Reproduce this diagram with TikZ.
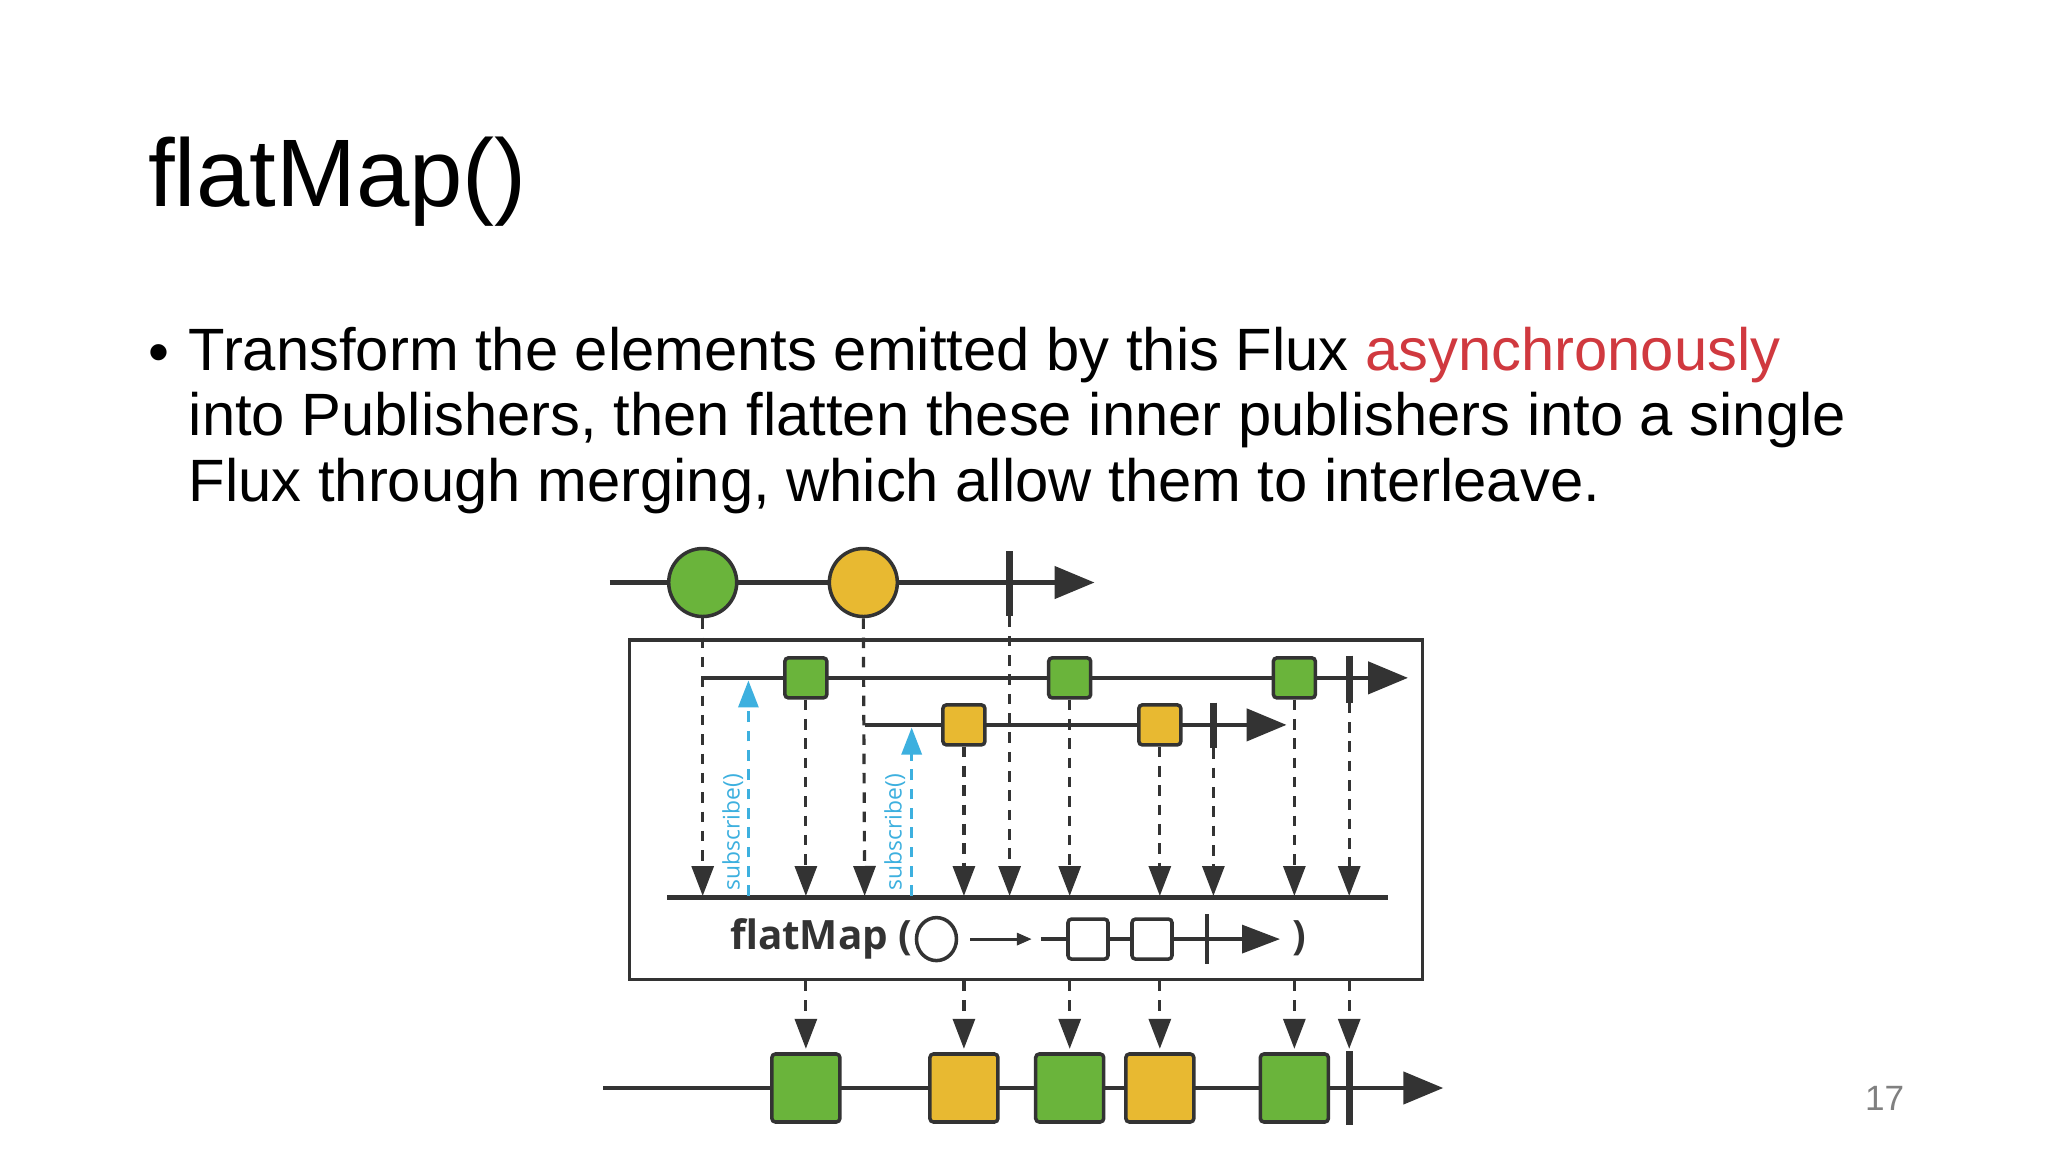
\documentclass[tikz,border=0pt]{standalone}
\usepackage{fontspec}
\setmainfont{Liberation Sans}
\newfontfamily\osans{Open Sans}
\usetikzlibrary{arrows.meta,shapes.geometric}
\definecolor{mgreen}{HTML}{6AB43B}
\definecolor{myellow}{HTML}{E8B931}
\definecolor{mblue}{HTML}{3DB0DF}
\definecolor{mred}{HTML}{D0393F}
\definecolor{dk}{HTML}{333333}
\begin{document}
\begin{tikzpicture}[x=0.013061cm,y=-0.013061cm,
  tl/.style={draw=dk,line width=1.3pt,-{Triangle[length=0.4cm,width=0.32cm]}},
  dl/.style={draw=dk,line width=0.9pt,dash pattern=on 3pt off 2.5pt,-{Triangle[length=0.3cm,width=0.22cm]}},
  bl/.style={draw=mblue,line width=0.9pt,dash pattern=on 3pt off 2.5pt,-{Triangle[length=0.27cm,width=0.2cm]}},
  marble/.style={circle,draw=dk,line width=1pt,minimum size=0.68cm,inner sep=0},
  sq/.style={rectangle,rounded corners=1pt,draw=dk,line width=1pt,minimum width=0.42cm,minimum height=0.40cm,inner sep=0},
  bsq/.style={rectangle,rounded corners=1pt,draw=dk,line width=1pt,minimum size=0.68cm,inner sep=0},
  bar/.style={draw=dk,line width=2pt}]
\useasboundingbox (0,0) rectangle (1568,882);
\fill[white] (0,0) rectangle (1568,882);
\node[anchor=base west,inner sep=0,font=\fontsize{27.3}{32}\selectfont] (title) at (113,158) {flatMap()};
\node[anchor=base west,inner sep=0,font=\fontsize{17}{18.6}\selectfont] (bul) at (113,285) {•};
\node[anchor=north west,inner sep=0,align=left,font=\fontsize{17}{18.6}\selectfont] (body) at (144,250)
 {Transform the elements emitted by this Flux \textcolor{mred}{asynchronously}\\
 into Publishers, then flatten these inner publishers into a single\\
 Flux through merging, which allow them to interleave.};
% top line
\coordinate (ts) at (467,446); \coordinate (te) at (838,446);
\draw[tl] (ts) -- (te);
\node[marble,fill=mgreen] (c1) at (538,446) {};
\node[marble,fill=myellow] (c2) at (661,446) {};
\draw[bar] (773,422) coordinate (b0t) -- (773,472) coordinate (b0);
% box
\node[draw=dk,line width=1pt,minimum width=607*0.013061cm,minimum height=260*0.013061cm,inner sep=0] (box) at (785.5,620) {};
% inner lines
\coordinate (l1s) at (539,519); \coordinate (l1e) at (1078,519);
\coordinate (l2s) at (662,555); \coordinate (l2e) at (985,555);
\draw[tl] (l1s) -- (l1e);
\draw[tl] (l2s) -- (l2e);
\node[sq,fill=mgreen] (g1) at (617,519) {};
\node[sq,fill=mgreen] (g2) at (819,519) {};
\node[sq,fill=mgreen] (g3) at (991,519) {};
\node[sq,fill=myellow] (y1) at (738,555) {};
\node[sq,fill=myellow] (y2) at (888,555) {};
\draw[bar] (1033,502) -- (1033,538) coordinate (b1);
\draw[bar] (929,538) -- (929,573) coordinate (b2);
% merge line
\draw[dk,line width=1.3pt] (511,687) coordinate (ms) -- (1063,687) coordinate (me);
\foreach \n/\x in {c1/538,c2/662} \draw[dl] (\n.south) -- (\x,686);
\draw[dl] (b0) -- (773,686);
\foreach \n/\x in {g1/617,g2/819,g3/991,y1/738,y2/888} \draw[dl] (\n.south) -- (\x,686);
\draw[dl] (b1) -- (1033,686);
\draw[dl] (b2) -- (929,686);
\draw[bl] (573,686) -- (573,521);
\draw[bl] (698,686) -- (698,557);
\node[rotate=90,text=mblue,font=\osans\fontsize{6.5}{8}\selectfont,inner sep=0] (s1) at (561,637) {subscribe()};
\node[rotate=90,text=mblue,font=\osans\fontsize{6.5}{8}\selectfont,inner sep=0] (s2) at (685,637) {subscribe()};
% legend
\node[anchor=base east,inner sep=0,text=dk,font=\osans\bfseries\fontsize{11.5}{14}\selectfont] (fm) at (699,727) {flatMap (};
\node[ellipse,draw=dk,line width=1pt,minimum width=0.4cm,minimum height=0.43cm,inner sep=0] (lc) at (717,719) {};
\draw[dk,line width=0.9pt,-{Triangle[length=0.15cm,width=0.12cm]}] (743,719) -- (790,719);
\draw[dk,line width=1pt,-{Triangle[length=0.38cm,width=0.28cm]}] (797,719) -- (980,719);
\node[sq,fill=white,minimum size=0.4cm] (w1) at (833,719) {};
\node[sq,fill=white,minimum size=0.4cm] (w2) at (882,719) {};
\draw[dk,line width=1pt] (924,700) -- (924,738);
\node[anchor=base,inner sep=0,text=dk,font=\osans\bfseries\fontsize{11.5}{14}\selectfont] (cp) at (995,727) {)};
% output
\draw[tl] (462,833) coordinate (os) -- (1105,833) coordinate (oe);
\foreach \x in {617,738,819,888,991,1033} \draw[dl] (\x,751) -- (\x,803);
\node[bsq,fill=mgreen] (o1) at (617,833) {};
\node[bsq,fill=myellow] (o2) at (738,833) {};
\node[bsq,fill=mgreen] (o3) at (819,833) {};
\node[bsq,fill=myellow] (o4) at (888,833) {};
\node[bsq,fill=mgreen] (o5) at (991,833) {};
\draw[bar] (1033,805) -- (1033,861);
\node[text=gray,font=\fontsize{10}{12}\selectfont,inner sep=0] (pg) at (1443,841) {17};
\end{tikzpicture}
\end{document}
